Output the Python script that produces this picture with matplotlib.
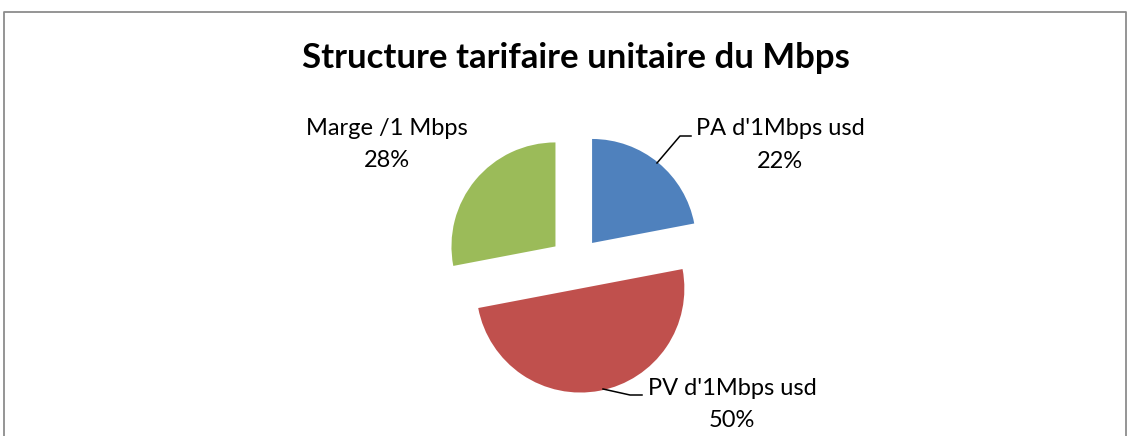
import matplotlib
matplotlib.use("Agg")
import matplotlib.pyplot as plt

# data
labels = ["PA d'1Mbps usd", "PV d'1Mbps usd", "Marge /1 Mbps"]
values = [22, 50, 28]
colors = ["#4F81BD", "#C0504D", "#9BBB59"]
title = "Structure tarifaire unitaire du Mbps"

W, H = 1127, 436
fig = plt.figure(figsize=(W / 100, H / 100), dpi=100)
ax = fig.add_axes([0, 0, 1, 1])

# explode is an absolute offset here (radius is in pixels)
ax.pie(values, colors=colors, startangle=90, counterclock=False,
       radius=104, center=(575.5, H - 263), explode=[26] * 3,
       wedgeprops=dict(linewidth=0))

ax.set_xlim(0, W)
ax.set_ylim(0, H)
ax.set_aspect('equal')
ax.axis('off')

# chart border (bottom is cropped in the reference)
ax.plot([4, 4, 1126, 1126], [0, H - 12, H - 12, 0], color='#8c8c8c', lw=1.3)

ax.text(576, H - 68, title, ha='center', va='baseline',
        fontsize=25, fontweight='bold', family='Lato')

# data labels: (x, baseline name, baseline pct) in pixel space
lab_pos = [(780, 135, 168), (732, 395, 427), (387, 135, 167)]
total = sum(values)
for name, v, (x, y1, y2) in zip(labels, values, lab_pos):
    ax.text(x, H - y1, name, ha='center', va='baseline', fontsize=17, family='Lato')
    ax.text(x, H - y2, f"{round(v / total * 100)}%", ha='center', va='baseline',
            fontsize=17, family='Lato')

# leader lines
ax.plot([657, 680, 691], [H - 163, H - 136, H - 136], color='black', lw=1.1)
ax.plot([603, 630, 642], [H - 389, H - 395, H - 395], color='black', lw=1.1)

fig.savefig("out.png", dpi=100)
